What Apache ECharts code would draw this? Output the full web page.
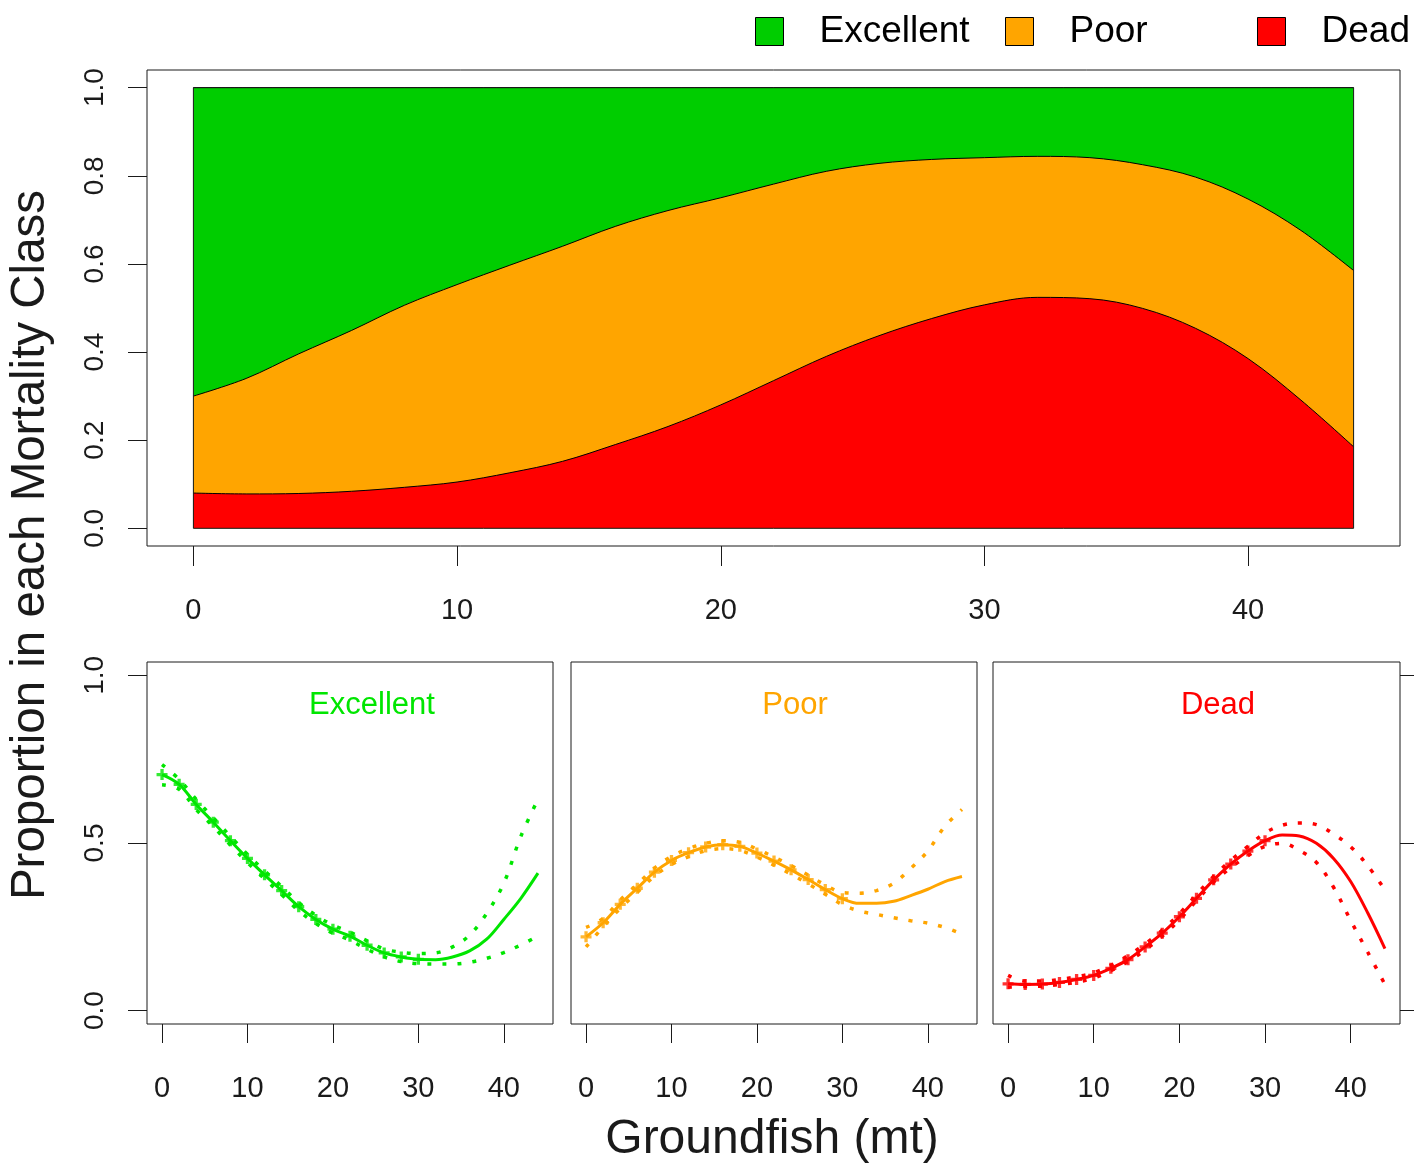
<!DOCTYPE html>
<html><head><meta charset="utf-8">
<script src="https://cdn.jsdelivr.net/npm/echarts@6/dist/echarts.min.js"></script>
<style>html,body{margin:0;padding:0;background:#fff}#c{width:1414px;height:1166px}</style>
</head><body><div id="c"></div>
<script>
// ---- data ----
const groundfish = [0,2,4,6,8,10,12,14,16,18,20,22,24,26,28,30,32,34,36,38,40,42,44];
const excellentFit   = [0.704,0.675,0.615,0.562,0.507,0.454,0.405,0.358,0.310,0.272,0.243,0.222,0.195,0.172,0.160,0.153,0.152,0.160,0.178,0.213,0.272,0.335,0.410];
const excellentUpper = [0.734,0.690,0.630,0.575,0.520,0.466,0.417,0.370,0.322,0.284,0.255,0.234,0.208,0.184,0.174,0.170,0.172,0.190,0.225,0.290,0.380,0.520,0.630];
const excellentLower = [0.674,0.660,0.600,0.549,0.494,0.442,0.393,0.346,0.298,0.260,0.231,0.210,0.183,0.160,0.146,0.140,0.139,0.139,0.144,0.156,0.173,0.196,0.222];
const poorFit   = [0.220,0.262,0.317,0.365,0.413,0.448,0.471,0.488,0.495,0.490,0.470,0.446,0.420,0.391,0.361,0.334,0.320,0.320,0.326,0.343,0.362,0.385,0.400];
const poorUpper = [0.248,0.275,0.330,0.377,0.425,0.460,0.483,0.499,0.507,0.502,0.482,0.458,0.433,0.404,0.375,0.352,0.350,0.358,0.380,0.424,0.476,0.550,0.600];
const poorLower = [0.190,0.250,0.305,0.353,0.401,0.436,0.459,0.477,0.483,0.478,0.458,0.434,0.407,0.378,0.347,0.316,0.297,0.287,0.277,0.268,0.261,0.248,0.228];
const deadFit   = [0.080,0.078,0.079,0.084,0.093,0.105,0.126,0.152,0.190,0.231,0.280,0.335,0.390,0.437,0.476,0.507,0.524,0.521,0.499,0.454,0.385,0.291,0.185];
const deadUpper = [0.105,0.088,0.088,0.093,0.101,0.113,0.135,0.164,0.199,0.240,0.289,0.346,0.401,0.448,0.490,0.530,0.553,0.560,0.555,0.527,0.489,0.432,0.360];
const deadLower = [0.070,0.072,0.073,0.078,0.085,0.097,0.119,0.146,0.181,0.222,0.271,0.328,0.383,0.426,0.462,0.490,0.499,0.478,0.442,0.368,0.269,0.174,0.078];
const observedGroundfish = [0,2,4,6,8,10,12,14,16,18,20,22,24,26,28,30];
const xTicks = [0,10,20,30,40];
const yTicksTop = [0,0.2,0.4,0.6,0.8,1.0];
const yTicksBottom = [0,0.5,1.0];
const classNames = ['Excellent','Poor','Dead'];

// ---- styling ----
const FONT = "'Liberation Sans', Arial, sans-serif";
const TXT = '#1a1a1a';
const fillColors = {Excellent:'#00CD00', Poor:'#FFA500', Dead:'#FF0000'};
const lineColors = {Excellent:'#00E600', Poor:'#FFA500', Dead:'#FF0000'};
const PLUS = 'path://M3.5,0H6.5V3.5H10V6.5H6.5V10H3.5V6.5H0V3.5H3.5Z';

const pairs = (arr) => groundfish.map((x,i) => [x, arr[i]]);
const obsPairs = (arr) => observedGroundfish.map(x => [x, arr[groundfish.indexOf(x)]]);

const hidden = {show:false};
function valueAxis(extra) { return Object.assign({type:'value', splitLine:{show:false}, axisLine:{show:false, onZero:false}}, extra); }

const xAxisTick = (len) => ({show:true, length:len, lineStyle:{color:TXT, width:1}, customValues:xTicks});
const xAxisLabel = (margin) => ({show:true, fontSize:29, fontFamily:FONT, color:TXT, margin:margin, customValues:xTicks, formatter:(v)=>String(v)});
const box = (l, t, w, h) => ({left:l, top:t, width:w, height:h, show:true, borderColor:TXT, borderWidth:1, backgroundColor:'transparent', z:5});

const grids = [
  box(147, 70, 1253, 476),
  box(193.4, 87.6, 1160.2, 440.7),
  box(147, 662, 406, 362),
  box(571, 662, 406, 362),
  box(993, 662, 407, 362)
];

const xAxes = [
  valueAxis({gridIndex:0, min:-1.76, max:45.76, axisTick:xAxisTick(20), axisLabel:xAxisLabel(50)}),
  valueAxis({gridIndex:1, min:0, max:44, axisTick:hidden, axisLabel:hidden}),
  valueAxis({gridIndex:2, min:-1.76, max:45.76, axisTick:xAxisTick(19), axisLabel:xAxisLabel(50)}),
  valueAxis({gridIndex:3, min:-1.76, max:45.76, axisTick:xAxisTick(19), axisLabel:xAxisLabel(50)}),
  valueAxis({gridIndex:4, min:-1.76, max:45.76, axisTick:xAxisTick(19), axisLabel:xAxisLabel(50)})
];
const yAxes = [
  valueAxis({gridIndex:0, min:-0.04, max:1.04,
    axisTick:{show:true, length:19, lineStyle:{color:TXT}, customValues:yTicksTop},
    axisLabel:{show:true, rotate:90, fontSize:28, fontFamily:FONT, color:TXT, margin:38, customValues:yTicksTop, formatter:(v)=>v.toFixed(1)}}),
  valueAxis({gridIndex:1, min:0, max:1, axisTick:hidden, axisLabel:hidden}),
  valueAxis({gridIndex:2, min:-0.04, max:1.04,
    axisTick:{show:true, length:19, lineStyle:{color:TXT}, customValues:yTicksBottom},
    axisLabel:{show:true, rotate:90, fontSize:28, fontFamily:FONT, color:TXT, margin:38, customValues:yTicksBottom, formatter:(v)=>v.toFixed(1)}}),
  valueAxis({gridIndex:3, min:-0.04, max:1.04, axisTick:hidden, axisLabel:hidden}),
  valueAxis({gridIndex:4, min:-0.04, max:1.04, position:'right',
    axisTick:{show:true, length:19, lineStyle:{color:TXT}, customValues:yTicksBottom}, axisLabel:hidden})
];

// top panel: cumulative proportions, each area filled down to 0 and layered
const cumDead = deadFit.slice();
const cumDeadPoor = deadFit.map((d,i) => d + poorFit[i]);
const cumAll = cumDeadPoor.map((c,i) => c + (1 - cumDeadPoor[i]));   // excellent = remaining share
const topSeries = [
  ['Excellent', cumAll, 2], ['Poor', cumDeadPoor, 3], ['Dead', cumDead, 4]
].map(([name, arr, z]) => ({
  name, type:'line', xAxisIndex:1, yAxisIndex:1, smooth:0.35, symbol:'none',
  data:pairs(arr), color:fillColors[name],
  lineStyle:{color:'#000', width:1}, areaStyle:{color:fillColors[name], opacity:1, origin:'start'}, z:z
}));

// bottom panels
const panelData = [
  ['Excellent', excellentFit, excellentLower, excellentUpper],
  ['Poor', poorFit, poorLower, poorUpper],
  ['Dead', deadFit, deadLower, deadUpper]
];
const bottomSeries = [];
panelData.forEach(([name, fit, lo, up], k) => {
  const ax = k + 2, col = lineColors[name];
  bottomSeries.push({name:name+' fit', type:'line', xAxisIndex:ax, yAxisIndex:ax, smooth:0.35, symbol:'none', data:pairs(fit), lineStyle:{color:col, width:3}, z:3});
  [lo, up].forEach((arr, j) => bottomSeries.push({name:name+(j?' upper':' lower'), type:'line', xAxisIndex:ax, yAxisIndex:ax, smooth:0.35, symbol:'none', data:pairs(arr), lineStyle:{color:col, width:3.5, type:[4,11], cap:'butt'}, z:3}));
  bottomSeries.push({name:name+' obs', type:'scatter', xAxisIndex:ax, yAxisIndex:ax, symbol:PLUS, symbolSize:11, data:obsPairs(fit), itemStyle:{color:col}, z:4});
});

const legendLefts = [755, 1005, 1257];
const legends = classNames.map((n, i) => ({
  data:[{name:n, itemStyle:{color:fillColors[n], borderColor:'#000', borderWidth:1}}],
  left:legendLefts[i], top:13, orient:'horizontal', icon:'rect', itemWidth:28, itemHeight:28,
  selectedMode:false, padding:0,
  textStyle:{fontSize:37, fontFamily:FONT, color:'#000', padding:[0,0,6,31]}
}));

const panelTitleX = [372, 795, 1218];
const graphics = classNames.map((n, i) => ({
  type:'text', x:panelTitleX[i], y:705,
  style:{text:n, fill:lineColors[n], font:'31px ' + FONT, textAlign:'center', textVerticalAlign:'middle'}
}));
graphics.push({type:'text', x:31, y:545, rotation:Math.PI/2,
  style:{text:'Proportion in each Mortality Class', fill:TXT, font:'47.5px ' + FONT, textAlign:'center', textVerticalAlign:'middle'}});
graphics.push({type:'text', x:772, y:1140,
  style:{text:'Groundfish (mt)', fill:TXT, font:'48px ' + FONT, textAlign:'center', textVerticalAlign:'middle'}});

const chart = echarts.init(document.getElementById('c'), null, {renderer:'canvas'});
chart.setOption({
  animation:false,
  backgroundColor:'#fff',
  grid:grids, xAxis:xAxes, yAxis:yAxes,
  legend:legends,
  graphic:graphics,
  series:topSeries.concat(bottomSeries)
});
</script></body></html>
